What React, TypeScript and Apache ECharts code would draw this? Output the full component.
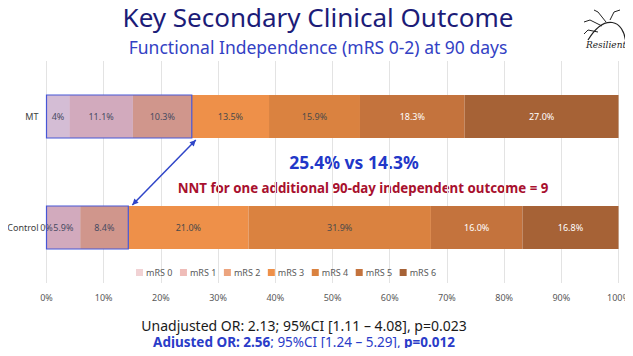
import React, { useEffect, useRef } from "react";
import * as echarts from "echarts";

const categories = ["MT", "Control"];
const seriesNames = ["mRS 0", "mRS 1", "mRS 2", "mRS 3", "mRS 4", "mRS 5", "mRS 6"];
const mtValues = [4.0, 11.1, 10.3, 13.5, 15.9, 18.3, 27.0];
const controlValues = [0.0, 5.9, 8.4, 21.0, 31.9, 16.0, 16.8];
const mtLabels = ["4%", "11.1%", "10.3%", "13.5%", "15.9%", "18.3%", "27.0%"];
const controlLabels = ["0%", "5.9%", "8.4%", "21.0%", "31.9%", "16.0%", "16.8%"];
const xTicks = [0, 10, 20, 30, 40, 50, 60, 70, 80, 90, 100];
const goodCount = 3; // mRS 0-2

const colors = ["#f1d2d4", "#efbcb8", "#eca47e", "#ee9049", "#da8240", "#c4733d", "#a66236"];
const labelColors = ["#4a4a4a", "#4a4a4a", "#4a4a4a", "#4a4a4a", "#4a4a4a", "#ffffff", "#ffffff"];

const sum = (a: number[]) => a.reduce((s, v) => s + v, 0);
const goodMT = Math.round(sum(mtValues.slice(0, goodCount)) * 10) / 10;
const goodCtrl = Math.round(sum(controlValues.slice(0, goodCount)) * 10) / 10;

const BAR_W = 43;
const FONT = "'Noto Sans', 'Open Sans', sans-serif";

export default function App() {
  const ref = useRef<HTMLDivElement>(null);
  useEffect(() => {
    if (!ref.current) return;
    const chart = echarts.init(ref.current, null, { renderer: "svg" });

    const barSeries = seriesNames.map((name, i) => ({
      name,
      type: "bar",
      stack: "total",
      barWidth: BAR_W,
      itemStyle: { color: colors[i] },
      label: {
        show: true,
        position: "inside",
        color: labelColors[i],
        fontSize: 9,
        fontFamily: FONT,
        formatter: (p: any) => (p.dataIndex === 0 ? mtLabels[i] : controlLabels[i]),
      },
      data: [mtValues[i], controlValues[i]],
      z: 2,
    }));

    const overlay = {
      type: "custom",
      z: 5,
      silent: true,
      data: [
        [goodMT, 0],
        [goodCtrl, 1],
      ],
      encode: { x: 0, y: 1 },
      renderItem: (params: any, api: any) => {
        const v = api.value(0);
        const c = api.value(1);
        const p0 = api.coord([0, c]);
        const p1 = api.coord([v, c]);
        return {
          type: "rect",
          shape: { x: p0[0], y: p0[1] - BAR_W / 2, width: p1[0] - p0[0], height: BAR_W },
          style: { fill: "rgba(60,80,215,0.16)", stroke: "#4656d6", lineWidth: 1.2 },
        };
      },
    };

    const arrow = {
      type: "custom",
      z: 6,
      silent: true,
      data: [[goodMT, 0, goodCtrl, 1]],
      encode: { x: [0, 2], y: [1, 3] },
      renderItem: (params: any, api: any) => {
        const a = api.coord([api.value(0), api.value(1)]);
        const b = api.coord([api.value(2), api.value(3)]);
        const x1 = a[0] + 4, y1 = a[1] + BAR_W / 2 + 2;
        const x2 = b[0] + 4, y2 = b[1] - BAR_W / 2 - 1;
        const dx = x2 - x1, dy = y2 - y1;
        const len = Math.sqrt(dx * dx + dy * dy);
        const ux = dx / len, uy = dy / len;
        const nx = -uy, ny = ux;
        const L = 6, W = 3;
        const head = (px: number, py: number, dir: number) => [
          [px, py],
          [px - dir * ux * L + nx * W, py - dir * uy * L + ny * W],
          [px - dir * ux * L - nx * W, py - dir * uy * L - ny * W],
        ];
        const col = "#2f45c8";
        return {
          type: "group",
          children: [
            { type: "line", shape: { x1, y1, x2, y2 }, style: { stroke: col, lineWidth: 1.5 } },
            { type: "polygon", shape: { points: head(x2, y2, 1) }, style: { fill: col } },
            { type: "polygon", shape: { points: head(x1, y1, -1) }, style: { fill: col } },
          ],
        };
      },
    };

    chart.setOption({
      animation: false,
      backgroundColor: "#ffffff",
      textStyle: { fontFamily: FONT },
      grid: { left: 46.5, right: 10.5, top: 61, bottom: 73, containLabel: false },
      legend: {
        data: seriesNames,
        left: 131,
        top: 263,
        itemWidth: 7,
        itemHeight: 7,
        itemGap: 7.5,
        icon: "rect",
        textStyle: { fontSize: 9, color: "#595959", fontFamily: FONT, padding: [0, 0, 0, -2] },
      },
      xAxis: {
        type: "value",
        min: 0,
        max: 100,
        interval: 10,
        axisLine: { show: false },
        axisTick: { show: false },
        splitLine: { show: true, lineStyle: { color: "#e3e3e3", width: 1 } },
        axisLabel: {
          formatter: (v: number) => (xTicks.includes(v) ? v + "%" : ""),
          fontSize: 9,
          color: "#595959",
          margin: 10,
          fontFamily: FONT,
        },
      },
      yAxis: {
        type: "category",
        data: categories,
        inverse: true,
        axisLine: { show: false },
        axisTick: { show: false },
        axisLabel: { fontSize: 9, color: "#404040", margin: 8, fontFamily: FONT },
      },
      series: [...barSeries, overlay, arrow],
      graphic: [
        {
          type: "text",
          x: 318,
          y: 17,
          style: {
            text: "Key Secondary Clinical Outcome",
            fontSize: 26,
            fill: "#1c1c78",
            fontFamily: FONT,
            align: "center",
            verticalAlign: "middle",
          },
        },
        {
          type: "text",
          x: 318,
          y: 47,
          style: {
            text: "Functional Independence (mRS 0-2) at 90 days",
            fontSize: 17.5,
            fill: "#3341c4",
            fontFamily: FONT,
            align: "center",
            verticalAlign: "middle",
          },
        },
        {
          type: "text",
          x: 354,
          y: 162,
          style: {
            text: `${goodMT.toFixed(1)}% vs ${goodCtrl.toFixed(1)}%`,
            fontSize: 17.5,
            fontWeight: "bold",
            fill: "#2237c8",
            align: "center",
            verticalAlign: "middle",
            fontFamily: FONT,
          },
        },
        {
          type: "text",
          x: 363,
          y: 188,
          style: {
            text: "NNT for one additional 90-day independent outcome = 9",
            fontSize: 13.3,
            fontWeight: "bold",
            fill: "#a8102e",
            align: "center",
            verticalAlign: "middle",
            fontFamily: FONT,
          },
        },
        {
          type: "text",
          x: 304,
          y: 325,
          style: {
            text: "Unadjusted OR: 2.13; 95%CI [1.11 – 4.08], p=0.023",
            fontSize: 14,
            fill: "#1a1a1a",
            align: "center",
            verticalAlign: "middle",
            fontFamily: FONT,
          },
        },
        {
          type: "text",
          x: 304,
          y: 342,
          style: {
            text: "{b|Adjusted OR: 2.56}{n|; 95%CI [1.24 – 5.29], }{b|p=0.012}",
            align: "center",
            verticalAlign: "middle",
            rich: {
              b: { fontSize: 13.5, fontWeight: "bold", fill: "#2a3cc8", fontFamily: FONT },
              n: { fontSize: 13.5, fill: "#2a3cc8", fontFamily: FONT },
            },
          },
        },
        {
          type: "group",
          x: 584,
          y: 10,
          children: [
            { type: "bezierCurve", shape: { x1: 4, y1: 30, x2: 42, y2: 34, cpx1: 20, cpy1: 4, cpx2: 40, cpy2: 8 }, style: { stroke: "#222", lineWidth: 1.2, fill: "none" } },
            { type: "polyline", shape: { points: [[22, 12], [14, 2], [10, 0]] }, style: { stroke: "#222", lineWidth: 1, fill: "none" } },
            { type: "polyline", shape: { points: [[18, 16], [6, 10], [0, 12]] }, style: { stroke: "#222", lineWidth: 1, fill: "none" } },
            { type: "polyline", shape: { points: [[14, 22], [4, 20], [0, 24]] }, style: { stroke: "#222", lineWidth: 1, fill: "none" } },
            { type: "polyline", shape: { points: [[26, 10], [30, 2], [36, 0]] }, style: { stroke: "#222", lineWidth: 1, fill: "none" } },
            { type: "polyline", shape: { points: [[42, 34], [46, 32]] }, style: { stroke: "#222", lineWidth: 1, fill: "none" } },
            {
              type: "text",
              x: 2,
              y: 30,
              style: { text: "Resilient", fontSize: 9, fontStyle: "italic", fill: "#222", fontFamily: "'DejaVu Serif', serif" },
            },
          ],
        },
      ],
    });
    return () => chart.dispose();
  }, []);
  return <div ref={ref} style={{ width: 633, height: 356, margin: -8 }} />;
}
